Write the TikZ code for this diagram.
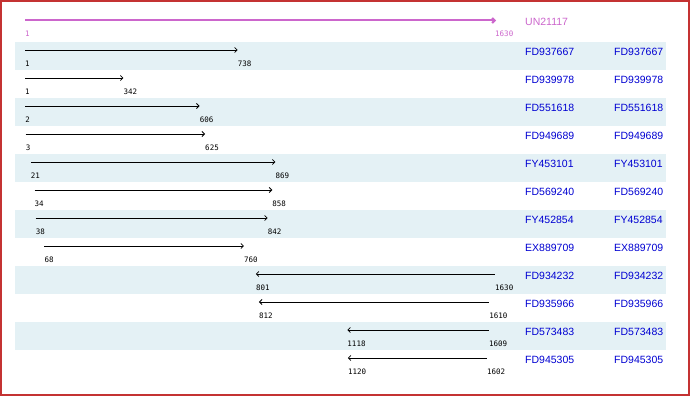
\documentclass[tikz,border=0pt]{standalone}
\usepackage{fontspec}
\setmainfont{Liberation Sans}
\newfontfamily\numfont{DejaVu Sans Mono}
\usetikzlibrary{arrows.meta}
\definecolor{bandcolor}{RGB}{228, 241, 245}
\definecolor{framecolor}{RGB}{196, 50, 50}
\definecolor{querycolor}{RGB}{204, 102, 204}
\definecolor{hitcolor}{RGB}{0, 0, 210}

\begin{document}
\begin{tikzpicture}[
    x=1pt, y=-1pt,
    band/.style={fill=bandcolor, draw=none},
    hit/.style={line width=0.8pt, >={Straight Barb[length=2.5pt, width=5pt]}},
    query/.style={hit, draw=querycolor, line width=2pt, ->},
    numlabel/.style={anchor=west, inner sep=0pt, font=\numfont\fontsize{7.5}{9}\selectfont},
    acclabel/.style={anchor=west, inner sep=0pt, text=hitcolor, font=\fontsize{10.5}{12}\selectfont}
]
    \fill[white] (0,0) rectangle (690,396);
    \draw[framecolor, line width=2pt] (1,1) rectangle (689,395);
    \useasboundingbox (0,0) rectangle (690,396);

    % query
    \coordinate (qs) at (25,20.5);
    \coordinate (qe) at (496,20.5);
    \draw[query] (qs) -- (qe);
    \node[numlabel, text=querycolor] (qa) at (25,34) {1};
    \node[numlabel, text=querycolor] (qb) at (495,34) {1630};
    \node[acclabel, text=querycolor] (qname) at (525,21.5) {UN21117};

    % hits
    \foreach \i/\acc/\a/\b/\dir in {
        0/FD937667/1/738/->, 1/FD939978/1/342/->, 2/FD551618/2/606/->,
        3/FD949689/3/625/->, 4/FY453101/21/869/->, 5/FD569240/34/858/->,
        6/FY452854/38/842/->, 7/EX889709/68/760/->, 8/FD934232/801/1630/<-,
        9/FD935966/812/1610/<-, 10/FD573483/1118/1609/<-, 11/FD945305/1120/1602/<-}
    {
        \pgfmathsetmacro\ya{50+28*\i}
        \pgfmathsetmacro\xa{25+(\a-1)/1629*470}
        \pgfmathsetmacro\xb{25+(\b-1)/1629*470}
        \ifodd\i\else
            \fill[band] (15,\ya-8) rectangle (666,\ya+20);
        \fi
        \coordinate (s\i) at (\xa,\ya);
        \coordinate (e\i) at (\xb,\ya);
        \draw[hit, \dir] (s\i) -- (e\i);
        \node[numlabel] (la\i) at (\xa,\ya+14) {\a};
        \node[numlabel] (lb\i) at (\xb,\ya+14) {\b};
        \node[acclabel] (acc\i) at (525,\ya+2) {\acc};
        \node[acclabel] (hsp\i) at (614,\ya+2) {\acc};
    }
\end{tikzpicture}
\end{document}
